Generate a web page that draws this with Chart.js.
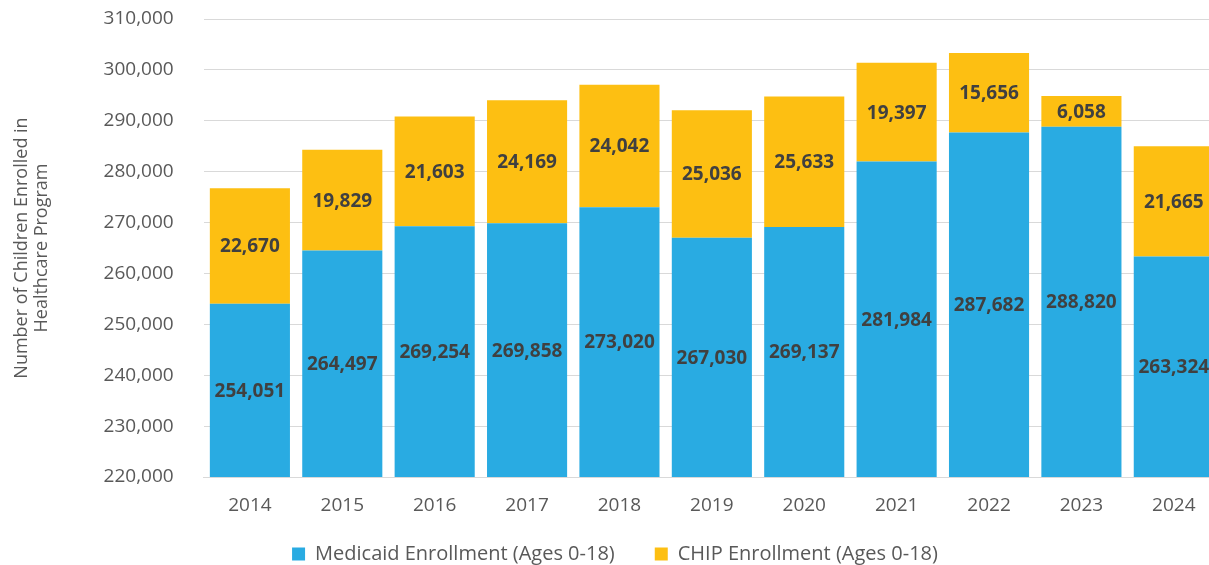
<!DOCTYPE html>
<html>
<head>
<meta charset="utf-8">
<script src="https://cdn.jsdelivr.net/npm/chart.js@4.4.1/dist/chart.umd.min.js"></script>
<style>
  html, body { margin: 0; padding: 0; background: #fff; overflow: hidden; }
  #wrap { width: 1220px; height: 565px; }
</style>
</head>
<body>
<div id="wrap"><canvas id="c"></canvas></div>
<script>
var years = ['2014','2015','2016','2017','2018','2019','2020','2021','2022','2023','2024'];
var medicaid = [254051, 264497, 269254, 269858, 273020, 267030, 269137, 281984, 287682, 288820, 263324];
var chip = [22670, 19829, 21603, 24169, 24042, 25036, 25633, 19397, 15656, 6058, 21665];

var BLUE = '#29abe2';
var GOLD = '#fdbf12';
var FONT = "'Open Sans', 'Noto Sans', sans-serif";

// value of each segment, centred in the visible part of the segment
var segLabels = {
  id: 'segLabels',
  afterLayout: function(chart){
    // x scale box is shrunk below; widen its label clip area again
    chart.scales.x.bottom = chart.height;
  },
  afterDatasetsDraw: function(chart){
    var ctx = chart.ctx;
    var area = chart.chartArea;
    ctx.save();
    ctx.font = 'bold 19px ' + FONT;
    ctx.fillStyle = '#404040';
    ctx.textAlign = 'center';
    ctx.textBaseline = 'middle';
    chart.data.datasets.forEach(function(ds, i){
      var meta = chart.getDatasetMeta(i);
      meta.data.forEach(function(bar, j){
        var top = Math.max(Math.min(bar.y, bar.base), area.top);
        var bot = Math.min(Math.max(bar.y, bar.base), area.bottom);
        ctx.fillText(ds.data[j].toLocaleString('en-US'), bar.x, (top + bot) / 2 + 1);
      });
    });
    ctx.restore();
  }
};

new Chart(document.getElementById('c'), {
  type: 'bar',
  data: {
    labels: years,
    datasets: [
      {label: 'Medicaid Enrollment (Ages 0-18)', data: medicaid, backgroundColor: BLUE},
      {label: 'CHIP Enrollment (Ages 0-18)', data: chip, backgroundColor: GOLD}
    ]
  },
  options: {
    responsive: true,
    maintainAspectRatio: false,
    animation: false,
    categoryPercentage: 1,
    barPercentage: 0.867,
    layout: {padding: {top: 19, left: 10, right: 0, bottom: -9}},
    plugins: {
      tooltip: {enabled: false},
      legend: {
        position: 'bottom',
        labels: {
          font: {family: FONT, size: 20},
          color: '#595959',
          boxWidth: 13,
          boxHeight: 13,
          padding: 40
        }
      }
    },
    scales: {
      x: {
        stacked: true,
        grid: {display: false, drawTicks: false},
        border: {color: '#d9d9d9'},
        ticks: {font: {family: FONT, size: 19}, color: '#595959', padding: 17},
        // let the legend's top padding overlap the space under the year labels
        afterFit: function(scale){ scale.height = 27; }
      },
      y: {
        stacked: true,
        min: 220000,
        max: 310000,
        border: {display: false},
        grid: {color: '#d9d9d9', drawTicks: true, tickLength: 28, tickColor: 'rgba(0,0,0,0)'},
        ticks: {
          stepSize: 10000,
          font: {family: FONT, size: 19},
          color: '#595959',
          padding: 2,
          callback: function(v){ return v.toLocaleString('en-US'); }
        },
        title: {
          display: true,
          text: ['Number of Children Enrolled in', 'Healthcare Program'],
          font: {family: FONT, size: 18, lineHeight: 1.1},
          color: '#595959',
          padding: {top: 2, bottom: 50}
        }
      }
    }
  },
  plugins: [segLabels]
});
</script>
</body>
</html>
